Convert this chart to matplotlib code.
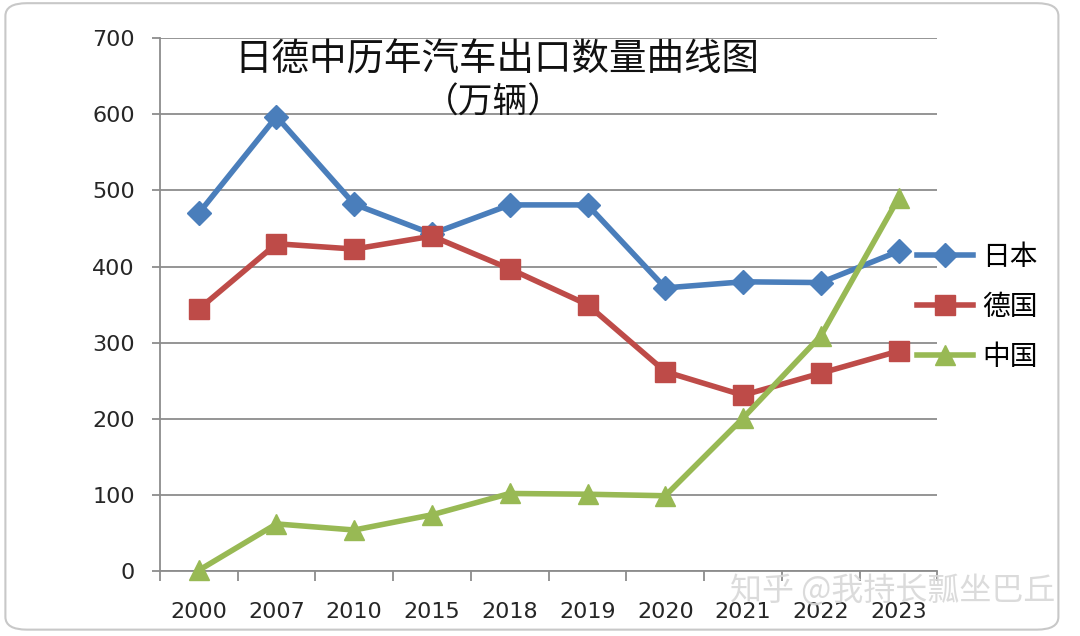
import matplotlib
matplotlib.use("Agg")
import matplotlib.pyplot as plt
from matplotlib.patches import FancyBboxPatch
import numpy as np

plt.rcParams["font.family"] = ["Noto Sans CJK SC", "DejaVu Sans"]

years = ["2000", "2007", "2010", "2015", "2018", "2019", "2020", "2021", "2022", "2023"]
japan = [470, 597, 482, 443, 481, 481, 372, 380, 379, 420]
germany = [344, 430, 423, 440, 397, 350, 262, 231, 260, 289]
china = [1, 62, 54, 74, 102, 101, 99, 201, 309, 490]
series_names = ["日本", "德国", "中国"]

fig = plt.figure(figsize=(10.8, 6.36), dpi=100)
ax = fig.add_axes([0.148, 0.102, 0.72, 0.838])

x = np.arange(len(years))
styles = [
    (japan, "#4A7EBB", "D", 12),
    (germany, "#BE4B48", "s", 14),
    (china, "#98B954", "^", 14),
]
handles = []
for (vals, color, marker, ms), name in zip(styles, series_names):
    h, = ax.plot(x, vals, color=color, lw=4, marker=marker, ms=ms,
                 mec=color, mfc=color, label=name, zorder=3, clip_on=False)
    handles.append(h)

ax.set_xlim(-0.5, len(years) - 0.5)
ax.set_ylim(0, 700)
ax.set_yticks(np.arange(0, 701, 100))
ax.yaxis.grid(True, color="#8c8c8c", lw=1.3)
ax.set_axisbelow(True)

tick_font = dict(family="DejaVu Sans", size=16, color="#262626")
ax.set_xticks(x)
ax.set_xticklabels(years, **tick_font)
ax.set_xticks(np.arange(-0.5, len(years), 1), minor=True)
ax.tick_params(axis="x", which="major", length=0, pad=22)
ax.tick_params(axis="x", which="minor", length=7, color="#8c8c8c", width=1.3)
ax.tick_params(axis="y", length=6, color="#8c8c8c", width=1.3, pad=12)
ax.set_yticklabels([str(v) for v in range(0, 701, 100)], **tick_font)

for s in ["top", "right"]:
    ax.spines[s].set_visible(False)
ax.spines["left"].set_color("#8c8c8c")
ax.spines["bottom"].set_color("#8c8c8c")
ax.spines["left"].set_linewidth(1.3)
ax.spines["bottom"].set_linewidth(1.3)

fig.text(0.46, 0.905, "日德中历年汽车出口数量曲线图", ha="center", va="center",
         fontsize=27, color="#111111")
fig.text(0.457, 0.838, "（万辆）", ha="center", va="center",
         fontsize=25, color="#111111")

fig.legend(handles=handles, loc="center left", bbox_to_anchor=(0.826, 0.518),
           frameon=False, fontsize=20, handlelength=2.0, labelspacing=0.72,
           handletextpad=0.35)

fig.text(0.977, 0.07, "知乎 @我持长瓢坐巴丘", ha="right", va="center",
         fontsize=23, color="#d8d8d8", alpha=0.9)

border = FancyBboxPatch((0.005, 0.01), 0.975, 0.985, boxstyle="round,pad=0,rounding_size=0.02",
                        transform=fig.transFigure, fill=False, ec="#c8c8c8", lw=1.5)
fig.patches.append(border)

fig.savefig("out.png", dpi=100)
